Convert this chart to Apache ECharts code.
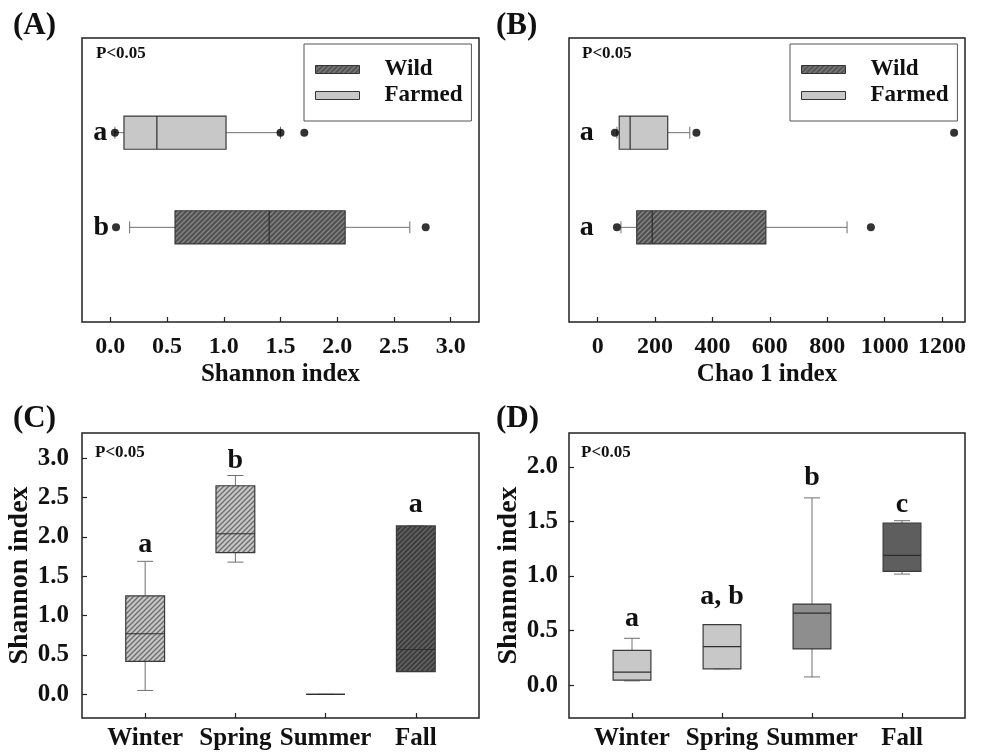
<!DOCTYPE html>
<html>
<head>
<meta charset="utf-8">
<script src="https://cdn.jsdelivr.net/npm/echarts@6/dist/echarts.min.js"></script>
<style>
  html, body { margin: 0; padding: 0; background: #fff; }
  #main { width: 983px; height: 755px; }
</style>
</head>
<body>
<div id="main"></div>
<script>
// box stats: [min, q1, median, q3, max]
var groupNames = ['Wild', 'Farmed'];

var shannonWild = [0.17, 0.57, 1.40, 2.07, 2.64];
var shannonFarmed = [0.04, 0.12, 0.41, 1.02, 1.50];
var shannonWildOut = [0.05, 2.78];
var shannonFarmedOut = [0.04, 1.50, 1.71];
var shannonLetters = ['b', 'a'];

var chaoWild = [81, 136, 190, 586, 869];
var chaoFarmed = [67, 75, 113, 244, 321];
var chaoWildOut = [67, 952];
var chaoFarmedOut = [60, 344, 1242];
var chaoLetters = ['a', 'a'];

var seasons = ['Winter', 'Spring', 'Summer', 'Fall'];
var seasonBoxesC = [
    [0.05, 0.42, 0.77, 1.25, 1.69],
    [1.68, 1.80, 2.04, 2.65, 2.78],
    [0, 0, 0, 0, 0],
    [0.29, 0.29, 0.57, 2.14, 2.14]
];
var seasonLettersC = ['a', 'b', '', 'a'];
var seasonLetterYC = [1.90, 2.97, 0, 2.41];

var seasonBoxesD = [
    [0.04, 0.046, 0.12, 0.32, 0.43],
    [0.15, 0.15, 0.354, 0.556, 0.556],
    [0.076, 0.333, 0.66, 0.743, 1.716],
    [1.018, 1.042, 1.189, 1.486, 1.507]
];
var seasonLettersD = ['a', 'a, b', 'b', 'c'];
var seasonLetterYD = [0.61, 0.81, 1.90, 1.65];

var ticksShannonA = [0, 0.5, 1, 1.5, 2, 2.5, 3];
var ticksChao = [0, 200, 400, 600, 800, 1000, 1200];
var ticksShannonC = [0, 0.5, 1, 1.5, 2, 2.5, 3];
var ticksShannonD = [0, 0.5, 1, 1.5, 2];

var serif = '"Liberation Serif", "Times New Roman", serif';
var ink = '#111';

// diagonal hatch fill
function hatch(bg, line) {
    var s = 5;
    var c = document.createElement('canvas');
    c.width = s; c.height = s;
    var g = c.getContext('2d');
    g.fillStyle = bg;
    g.fillRect(0, 0, s, s);
    g.strokeStyle = line;
    g.lineWidth = 1.4;
    g.beginPath();
    g.moveTo(0, s); g.lineTo(s, 0);
    g.moveTo(-1, 1); g.lineTo(1, -1);
    g.moveTo(s - 1, s + 1); g.lineTo(s + 1, s - 1);
    g.stroke();
    return { image: c, repeat: 'repeat' };
}

var wildFill = hatch('#505050', '#858585');
var farmedFill = '#c8c8c8';
var lightHatch = hatch('#c6c6c6', '#6e6e6e');
var darkHatch = hatch('#3e3e3e', '#666666');

function boxRenderer(horizontal, boxSize, capPx, fills, letters, letterPos, letterFont) {
    return function (params, api) {
        var i = params.dataIndex;
        var pos = api.value(0);
        function pt(v) {
            return horizontal ? api.coord([v, pos]) : api.coord([pos, v]);
        }
        var lo = pt(api.value(1)), q1 = pt(api.value(2)), md = pt(api.value(3)),
            q3 = pt(api.value(4)), hi = pt(api.value(5));
        var half = horizontal ? api.size([0, boxSize])[1] / 2 : api.size([boxSize, 0])[0] / 2;
        var wl = { stroke: '#707070', lineWidth: 1 };
        var boxStyle = { fill: fills[i], stroke: '#3a3a3a', lineWidth: 1.2 };
        var medStyle = { stroke: '#2e2e2e', lineWidth: 1.2 };
        var kids = [];
        var k = capPx / 2;
        if (horizontal) {
            var c = lo[1];
            kids.push({ type: 'line', shape: { x1: lo[0], y1: c, x2: q1[0], y2: c }, style: wl });
            kids.push({ type: 'line', shape: { x1: q3[0], y1: c, x2: hi[0], y2: c }, style: wl });
            kids.push({ type: 'line', shape: { x1: lo[0], y1: c - k, x2: lo[0], y2: c + k }, style: wl });
            kids.push({ type: 'line', shape: { x1: hi[0], y1: c - k, x2: hi[0], y2: c + k }, style: wl });
            kids.push({ type: 'rect', shape: { x: q1[0], y: c - half, width: q3[0] - q1[0], height: 2 * half }, style: boxStyle });
            kids.push({ type: 'line', shape: { x1: md[0], y1: c - half, x2: md[0], y2: c + half }, style: medStyle });
        } else {
            var x = lo[0];
            kids.push({ type: 'line', shape: { x1: x, y1: lo[1], x2: x, y2: q1[1] }, style: wl });
            kids.push({ type: 'line', shape: { x1: x, y1: q3[1], x2: x, y2: hi[1] }, style: wl });
            kids.push({ type: 'line', shape: { x1: x - k, y1: lo[1], x2: x + k, y2: lo[1] }, style: wl });
            kids.push({ type: 'line', shape: { x1: x - k, y1: hi[1], x2: x + k, y2: hi[1] }, style: wl });
            kids.push({ type: 'rect', shape: { x: x - half, y: q3[1], width: 2 * half, height: q1[1] - q3[1] }, style: boxStyle });
            kids.push({ type: 'line', shape: { x1: x - half, y1: md[1], x2: x + half, y2: md[1] }, style: medStyle });
        }
        if (letters[i]) {
            var lp = horizontal ? api.coord([letterPos[i], pos]) : api.coord([pos, letterPos[i]]);
            kids.push({
                type: 'text',
                style: {
                    text: letters[i], x: lp[0], y: lp[1], fill: ink,
                    font: 'bold ' + letterFont + 'px ' + serif,
                    align: 'center', verticalAlign: 'middle',
                    textAlign: 'center', textVerticalAlign: 'middle'
                }
            });
        }
        return { type: 'group', children: kids };
    };
}

function withPos(stats, p) {
    return [p].concat(stats);
}

function outliers(vals, p) {
    return vals.map(function (v) { return [v, p]; });
}

var labelFont = { fontFamily: serif, fontWeight: 'bold', color: ink };

function valueAxis(gridIndex, min, max, ticks, fmt, size, margin, name, gap, nameSize) {
    return {
        type: 'value', gridIndex: gridIndex, min: min, max: max,
        axisLine: { show: false, onZero: false },
        axisTick: { show: true, inside: true, length: 5, customValues: ticks, lineStyle: { color: '#222', width: 1.2 } },
        axisLabel: Object.assign({ customValues: ticks, formatter: fmt, fontSize: size, margin: margin }, labelFont),
        splitLine: { show: false },
        name: name, nameLocation: 'middle', nameGap: gap,
        nameTextStyle: Object.assign({ fontSize: nameSize }, labelFont)
    };
}

function hiddenAxis(gridIndex, min, max) {
    return {
        type: 'value', gridIndex: gridIndex, min: min, max: max, show: false,
        axisLine: { onZero: false },
        splitLine: { show: false }
    };
}

function gridBox(left, top, width, height) {
    return {
        left: left, top: top, width: width, height: height,
        show: true, borderColor: '#222', borderWidth: 1.5,
        outerBoundsMode: 'none', containLabel: false
    };
}

function legendAt(left) {
    return {
        data: groupNames, orient: 'vertical', left: left, top: 44,
        selectedMode: false, borderColor: '#555', borderWidth: 1,
        padding: [14, 9, 14, 11], itemWidth: 44, itemHeight: 8, itemGap: 3,
        icon: 'rect',
        itemStyle: { borderColor: '#333', borderWidth: 1 },
        textStyle: Object.assign({ fontSize: 23, lineHeight: 22, padding: [0, 0, 0, 20] }, labelFont)
    };
}

function fixed1(v) { return v.toFixed(1); }
function seasonName(v) { return seasons[Math.round(v) - 1]; }

function panelTitle(text, left, top) {
    return { text: text, left: left, top: top, textStyle: Object.assign({ fontSize: 31 }, labelFont) };
}
function pTitle(left, top) {
    return { text: 'P<0.05', left: left, top: top, padding: 0, textStyle: Object.assign({ fontSize: 17 }, labelFont) };
}

var chart = echarts.init(document.getElementById('main'));

var option = {
    backgroundColor: '#fff',
    animation: false,
    title: [
        panelTitle('(A)', 8, 5), panelTitle('(B)', 491, 5),
        panelTitle('(C)', 8, 398), panelTitle('(D)', 491, 398),
        pTitle(96, 45), pTitle(582, 45), pTitle(95, 444), pTitle(581, 444)
    ],
    legend: [legendAt(304), legendAt(790)],
    grid: [
        gridBox(82, 38, 397, 284),
        gridBox(569, 38, 396, 284),
        gridBox(82, 433, 397, 285),
        gridBox(569, 433, 396, 285)
    ],
    xAxis: [
        valueAxis(0, -0.25, 3.25, ticksShannonA, fixed1, 24, 13, 'Shannon index', 40, 25),
        valueAxis(1, -100, 1280, ticksChao, function (v) { return String(v); }, 24, 13, 'Chao 1 index', 40, 25),
        valueAxis(2, 0.3, 4.7, [1, 2, 3, 4], seasonName, 25, 8, '', 0, 24),
        valueAxis(3, 0.3, 4.7, [1, 2, 3, 4], seasonName, 25, 8, '', 0, 24)
    ],
    yAxis: [
        hiddenAxis(0, 0, 3),
        hiddenAxis(1, 0, 3),
        valueAxis(2, -0.3, 3.32, ticksShannonC, fixed1, 25, 13, 'Shannon index', 46, 28),
        valueAxis(3, -0.3, 2.31, ticksShannonD, fixed1, 25, 11, 'Shannon index', 44, 28)
    ],
    series: [
        {
            name: 'Wild', type: 'custom', xAxisIndex: 0, yAxisIndex: 0, silent: true,
            itemStyle: { color: wildFill, borderColor: '#333', borderWidth: 1 },
            encode: { x: [1, 2, 3, 4, 5], y: 0 },
            renderItem: boxRenderer(true, 0.35, 12, [wildFill], [shannonLetters[0]], [-0.08], 28),
            data: [withPos(shannonWild, 1)]
        },
        {
            name: 'Farmed', type: 'custom', xAxisIndex: 0, yAxisIndex: 0, silent: true,
            itemStyle: { color: farmedFill, borderColor: '#333', borderWidth: 1 },
            encode: { x: [1, 2, 3, 4, 5], y: 0 },
            renderItem: boxRenderer(true, 0.35, 12, [farmedFill], [shannonLetters[1]], [-0.09], 28),
            data: [withPos(shannonFarmed, 2)]
        },
        {
            type: 'scatter', xAxisIndex: 0, yAxisIndex: 0, silent: true,
            symbolSize: 8, itemStyle: { color: '#000' },
            data: outliers(shannonWildOut, 1).concat(outliers(shannonFarmedOut, 2))
        },
        {
            name: 'Wild', type: 'custom', xAxisIndex: 1, yAxisIndex: 1, silent: true,
            itemStyle: { color: wildFill, borderColor: '#333', borderWidth: 1 },
            encode: { x: [1, 2, 3, 4, 5], y: 0 },
            renderItem: boxRenderer(true, 0.35, 12, [wildFill], [chaoLetters[0]], [-38], 28),
            data: [withPos(chaoWild, 1)]
        },
        {
            name: 'Farmed', type: 'custom', xAxisIndex: 1, yAxisIndex: 1, silent: true,
            itemStyle: { color: farmedFill, borderColor: '#333', borderWidth: 1 },
            encode: { x: [1, 2, 3, 4, 5], y: 0 },
            renderItem: boxRenderer(true, 0.35, 12, [farmedFill], [chaoLetters[1]], [-38], 28),
            data: [withPos(chaoFarmed, 2)]
        },
        {
            type: 'scatter', xAxisIndex: 1, yAxisIndex: 1, silent: true,
            symbolSize: 8, itemStyle: { color: '#000' },
            data: outliers(chaoWildOut, 1).concat(outliers(chaoFarmedOut, 2))
        },
        {
            type: 'custom', xAxisIndex: 2, yAxisIndex: 2, silent: true,
            encode: { x: 0, y: [1, 2, 3, 4, 5] },
            renderItem: boxRenderer(false, 0.43, 16, [lightHatch, lightHatch, '#ffffff', darkHatch],
                seasonLettersC, seasonLetterYC, 28),
            data: seasonBoxesC.map(function (b, i) { return withPos(b, i + 1); })
        },
        {
            type: 'custom', xAxisIndex: 3, yAxisIndex: 3, silent: true,
            encode: { x: 0, y: [1, 2, 3, 4, 5] },
            renderItem: boxRenderer(false, 0.42, 16, ['#c8c8c8', '#c8c8c8', '#8e8e8e', '#5e5e5e'],
                seasonLettersD, seasonLetterYD, 28),
            data: seasonBoxesD.map(function (b, i) { return withPos(b, i + 1); })
        }
    ]
};

chart.setOption(option);
</script>
</body>
</html>
